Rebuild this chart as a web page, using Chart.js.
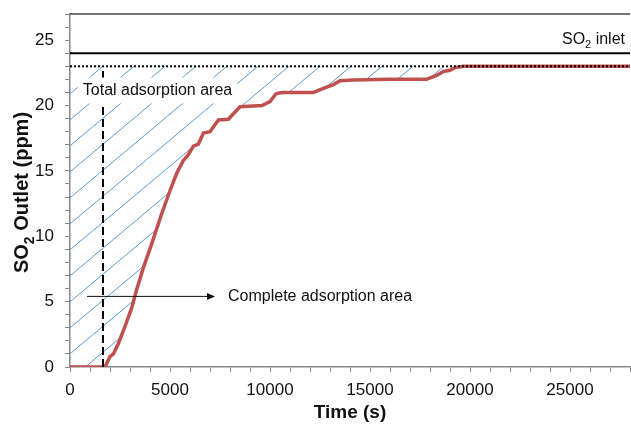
<!DOCTYPE html>
<html>
<head>
<meta charset="utf-8">
<script src="https://cdn.jsdelivr.net/npm/chart.js@4.4.1/dist/chart.umd.min.js"></script>
<style>
  html, body { margin: 0; padding: 0; background: #fff; }
  #wrap { width: 631px; height: 424px; }
  canvas { display: block; }
</style>
</head>
<body>
<div id="wrap"><canvas id="c" width="631" height="424"></canvas></div>
<script>
// --- data ---
const timeS     = [0, 1750, 2000, 2170, 2420, 2750, 3080, 3330, 3670, 4080, 4580, 5000, 5330, 5670, 5900, 6170, 6420, 6670, 7000, 7420, 7920, 8500, 9600, 10000, 10300, 10600, 12170, 12830, 13170, 13500, 14170, 16000, 17830, 18330, 18670, 19000, 19250, 19670, 28000];
const outletPpm = [0,    0,  0.8,  1.0,  1.8,  3.1,  4.5,  5.9,  7.6,  9.4, 11.7, 13.5, 14.8, 15.8, 16.2, 16.9, 17.05, 17.9, 18.0, 18.9, 18.95, 19.9, 20.0, 20.3, 20.9, 21.0, 21.0, 21.4, 21.6, 21.9, 21.95, 22.0, 22.0, 22.3, 22.6, 22.7, 22.9, 23.0, 23.0];
const inletX = [0, 28000];
const inletPpm = [24, 24];
const saturatedPpm = [23, 23];
const breakX = [1650, 1650];
const breakY = [0, 23];
const xTickLabels = [0, 5000, 10000, 15000, 20000, 25000];
const yTickLabels = [0, 5, 10, 15, 20, 25];

const FONT = 'Arial, "Liberation Sans", sans-serif';

// diagonal hatch for the adsorption area
function makeHatch() {
    const W = 31, H = 26, c0 = 22.6;
    const t = document.createElement('canvas');
    t.width = W; t.height = H;
    const g = t.getContext('2d');
    g.strokeStyle = '#5b9bd5';
    g.lineWidth = 1;
    [c0 - H, c0, c0 + H].forEach(c => {
        g.beginPath();
        g.moveTo(-1, c + H / W);
        g.lineTo(W + 1, c - H - H / W);
        g.stroke();
    });
    return g.createPattern(t, 'repeat');
}

function drawRich(ctx, parts, x, y, size, weight, align) {
    const sub = Math.round(size * 0.68);
    const fontOf = p => `${weight} ${p.sub ? sub : size}px ${FONT}`;
    let total = 0;
    parts.forEach(p => { ctx.font = fontOf(p); total += ctx.measureText(p.t).width; });
    let cx = align === 'right' ? x - total : align === 'center' ? x - total / 2 : x;
    ctx.textAlign = 'left';
    ctx.textBaseline = 'alphabetic';
    parts.forEach(p => {
        ctx.font = fontOf(p);
        ctx.fillText(p.t, cx, y + (p.sub ? size * 0.28 : 0));
        cx += ctx.measureText(p.t).width;
    });
    return total;
}

const annotations = {
    id: 'annotations',
    afterDatasetsDraw(chart) {
        const { ctx, chartArea: a, scales: { x, y } } = chart;
        ctx.save();
        ctx.fillStyle = '#111';

        // top frame
        ctx.strokeStyle = '#444';
        ctx.lineWidth = 1.5;
        ctx.beginPath();
        ctx.moveTo(a.left, a.top);
        ctx.lineTo(a.right, a.top);
        ctx.stroke();

        // total adsorption label on white box
        ctx.font = `16px ${FONT}`;
        const t1 = 'Total adsorption area';
        const tx = x.getPixelForValue(640), ty = y.getPixelForValue(21.15);
        const w1 = ctx.measureText(t1).width;
        ctx.fillStyle = '#fff';
        ctx.fillRect(tx - 5, ty - 13, w1 + 10, 26);
        ctx.fillStyle = '#111';
        ctx.textAlign = 'left';
        ctx.textBaseline = 'middle';
        ctx.fillText(t1, tx, ty);

        // complete adsorption arrow + label
        const ay = y.getPixelForValue(5.4);
        const ax0 = x.getPixelForValue(850), ax1 = x.getPixelForValue(7250);
        ctx.strokeStyle = '#111';
        ctx.lineWidth = 1;
        ctx.beginPath();
        ctx.moveTo(ax0, ay);
        ctx.lineTo(ax1 - 6, ay);
        ctx.stroke();
        ctx.beginPath();
        ctx.moveTo(ax1, ay);
        ctx.lineTo(ax1 - 8, ay - 3.5);
        ctx.lineTo(ax1 - 8, ay + 3.5);
        ctx.closePath();
        ctx.fill();
        ctx.fillText('Complete adsorption area', x.getPixelForValue(7900), ay);

        // SO2 inlet label
        drawRich(ctx, [{ t: 'SO' }, { t: '2', sub: true }, { t: ' inlet' }],
            x.getPixelForValue(27750), y.getPixelForValue(24.73), 16, 'normal', 'right');

        // y axis title
        ctx.translate(21, (a.top + a.bottom) / 2 + 2);
        ctx.rotate(-Math.PI / 2);
        drawRich(ctx, [{ t: 'SO' }, { t: '2', sub: true }, { t: ' Outlet (ppm)' }], 0, 7, 20, 'bold', 'center');
        ctx.restore();
    }
};

const grey = '#878787';

new Chart(document.getElementById('c'), {
    type: 'line',
    data: {
        datasets: [
            {
                data: inletX.map((v, i) => ({ x: v, y: saturatedPpm[i] })),
                borderColor: '#000', borderWidth: 2, borderDash: [2, 2],
                pointRadius: 0, fill: false
            },
            {
                data: inletX.map((v, i) => ({ x: v, y: inletPpm[i] })),
                borderColor: '#000', borderWidth: 2,
                pointRadius: 0, fill: false
            },
            {
                data: breakX.map((v, i) => ({ x: v, y: breakY[i] })),
                borderColor: '#000', borderWidth: 2, borderDash: [8, 4],
                pointRadius: 0, fill: false
            },
            {
                data: timeS.map((v, i) => ({ x: v, y: outletPpm[i] })),
                borderColor: '#c0504d', borderWidth: 3.5,
                pointRadius: 0, tension: 0,
                fill: { value: 23 },
                backgroundColor: makeHatch()
            }
        ]
    },
    options: {
        responsive: false,
        animation: false,
        devicePixelRatio: 1,
        layout: { padding: { top: 14, right: 1, left: 0, bottom: 0 } },
        plugins: { legend: { display: false }, tooltip: { enabled: false } },
        scales: {
            x: {
                type: 'linear', min: 0, max: 28000,
                afterFit: s => { s.height = 57; s.paddingLeft = 0; s.paddingRight = 0; },
                border: { color: grey, width: 1.5 },
                grid: { drawOnChartArea: false, drawTicks: true, tickLength: 5, color: grey },
                ticks: {
                    stepSize: 1000, autoSkip: false, maxRotation: 0, padding: 8,
                    color: '#111', font: { family: FONT, size: 17 },
                    callback: v => xTickLabels.includes(v) ? String(v) : ''
                },
                title: {
                    display: true, text: 'Time (s)', color: '#111',
                    font: { family: FONT, size: 19, weight: 'bold' },
                    padding: { top: 0, bottom: 0 }
                }
            },
            y: {
                min: 0, max: 27,
                afterFit: s => { s.width = 70; s.paddingTop = 0; s.paddingBottom = 0; },
                border: { color: grey, width: 1.5 },
                grid: { drawOnChartArea: false, drawTicks: true, tickLength: 5, color: grey },
                ticks: {
                    stepSize: 1, autoSkip: false, padding: 11,
                    color: '#111', font: { family: FONT, size: 17 },
                    callback: v => yTickLabels.includes(v) ? String(v) : ''
                }
            }
        }
    },
    plugins: [annotations]
});
</script>
</body>
</html>
